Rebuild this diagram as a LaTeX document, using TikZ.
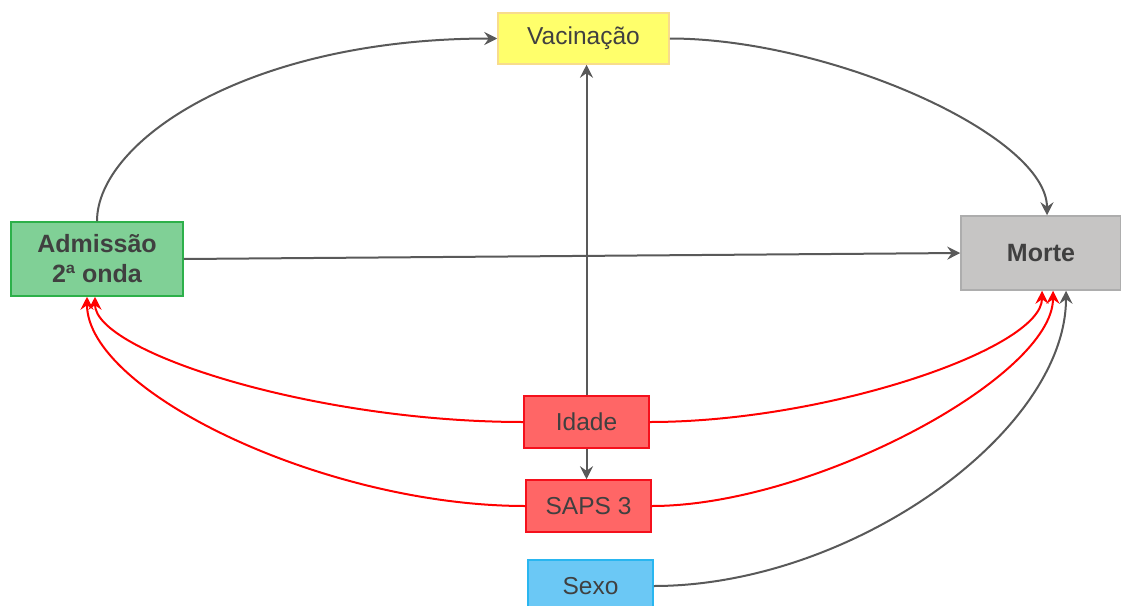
\documentclass[tikz,border=0pt]{standalone}
\usepackage{fontspec}
\setmainfont{Liberation Sans}
\usetikzlibrary{arrows.meta}
\definecolor{txt}{HTML}{404040}
\definecolor{lgray}{HTML}{595959}
\definecolor{vacfill}{HTML}{FFFF6B}
\definecolor{vacdraw}{HTML}{F8DC8C}
\definecolor{admfill}{HTML}{80D096}
\definecolor{admdraw}{HTML}{2DB04A}
\definecolor{morfill}{HTML}{C6C5C4}
\definecolor{mordraw}{HTML}{ADADAD}
\definecolor{redfill}{HTML}{FF6666}
\definecolor{reddraw}{HTML}{F5101C}
\definecolor{bluefill}{HTML}{6BC8F5}
\definecolor{bluedraw}{HTML}{29B6F0}
\definecolor{redline}{HTML}{FF0000}
\begin{document}
\begin{tikzpicture}[x=1pt,y=-1pt,
  box/.style={draw, line width=1.5pt, inner sep=0pt, align=center, text=txt,
    font=\fontsize{24.5}{30}\selectfont},
  boldbox/.style={box, font=\fontsize{25}{30}\selectfont\bfseries},
  arr/.style={line width=2pt, draw=lgray, -{Stealth[length=13pt,width=13pt,inset=4.5pt]}},
  rarr/.style={arr, draw=redline}]
\clip (0,0) rectangle (1121,605);
\node[box, fill=vacfill, draw=vacdraw, minimum width=171pt, minimum height=51pt] (vac) at (583.5,38.5) {Vacinação};
\node[boldbox, fill=admfill, draw=admdraw, minimum width=172pt, minimum height=74pt] (adm) at (97,259) {Admissão\\2ª onda};
\node[boldbox, fill=morfill, draw=mordraw, minimum width=160pt, minimum height=74pt] (mor) at (1041,253) {Morte};
\node[box, fill=redfill, draw=reddraw, minimum width=125pt, minimum height=52pt] (ida) at (586.5,422) {Idade};
\node[box, fill=redfill, draw=reddraw, minimum width=125pt, minimum height=52pt] (saps) at (588.5,506) {SAPS 3};
\node[box, fill=bluefill, draw=bluedraw, minimum width=125pt, minimum height=52pt] (sexo) at (590.5,586) {Sexo};

\draw[arr] (adm.north) .. controls +(0,-80) and +(-250,0) .. (vac.west);
\draw[arr] (vac.east) .. controls +(160,0) and +(0,-80) .. ([xshift=6pt]mor.north);
\draw[arr] (adm.east) -- (mor.west);
\draw[arr] (ida.north) -- (ida.north |- vac.south);
\draw[arr] (ida.south) -- (ida.south |- saps.north);

\draw[rarr] (ida.west) .. controls +(-210,0) and +(0,55) .. ([xshift=-2pt]adm.south);
\draw[rarr] (saps.west) .. controls +(-200,0) and +(0,95) .. ([xshift=-10pt]adm.south);
\draw[rarr] (ida.east) .. controls +(177,0) and +(0,58) .. ([xshift=1pt]mor.south);
\draw[rarr] (saps.east) .. controls +(161,0) and +(0,86) .. ([xshift=12pt]mor.south);
\draw[arr] (sexo.east) .. controls +(198,0) and +(0,141) .. ([xshift=25pt]mor.south);
\end{tikzpicture}
\end{document}
